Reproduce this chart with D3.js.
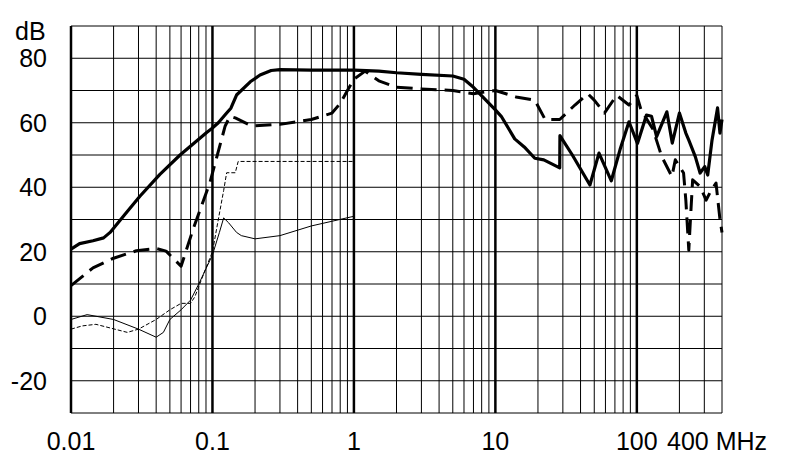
<!DOCTYPE html><html><head><script src="https://cdn.jsdelivr.net/npm/d3@7"></script>
<style>body{margin:0;background:#fff}text{font-family:Arial,"Liberation Sans",sans-serif}</style></head><body>
<svg id="c" width="790" height="472"></svg>
<script>
const yTicks=[-20,0,20,40,60,80];
const xTickLabels=[["0.01",0.01],["0.1",0.1],["1",1],["10",10],["100",100],["400 MHz",400]];
const thickSolid=[[0.01,20.8],[0.0115,22.5],[0.0143,23.4],[0.017,24.3],[0.0189,26],[0.0245,32],[0.0307,37.2],[0.0425,44],[0.059,50],[0.091,57],[0.099,58.2],[0.11,60],[0.126,63],[0.135,64.5],[0.148,68.6],[0.185,72.7],[0.217,74.8],[0.26,76.2],[0.3,76.5],[0.5,76.3],[1,76.3],[1.5,76],[2,75.5],[3,75],[5,74.5],[6,73.5],[7,71],[10,64],[11,62],[13.7,55],[16,52.5],[19,49],[22,48.5],[28.5,46],[28.6,56],[35,50],[46.6,40.7],[54,50.6],[66,42],[76,51.6],[88,60.3],[101,53.6],[117,62.4],[127,62],[138,55.7],[163,63.4],[178,53.7],[200,63],[222,56.8],[233,54.6],[259,49.5],[280,44.4],[302,46.4],[317,43.8],[340,54.6],[372,64.6],[387,56.8],[400,61]];
const thickDashed=[[0.01,9.5],[0.0143,15],[0.02,18],[0.029,20.3],[0.04,21],[0.047,20.2],[0.06,15.5],[0.073,27],[0.096,41.5],[0.123,59],[0.133,62],[0.145,61.5],[0.19,59],[0.3,59.5],[0.5,61],[0.7,63],[0.8,66],[0.9,70],[1,73.5],[1.2,76],[1.5,73],[2,71],[3,70.5],[5,70],[7,69],[10,70],[14,68],[19,67],[22.5,61],[28.5,61],[36.5,65.5],[45,69],[50,67],[59,63],[72,68.5],[88,65.5],[100,68.5],[107,64],[130,58],[150,49.5],[177,43.3],[187,48.5],[214,44.4],[222,36],[233,20.5],[240,31],[248,42.3],[280,40.2],[309,36],[335,39],[363,41.3],[387,30],[400,26]];
const thinSolid=[[0.01,-1],[0.013,0.5],[0.02,-1],[0.03,-4],[0.04,-6.5],[0.045,-5],[0.05,-1],[0.06,2],[0.07,5],[0.08,10],[0.1,19],[0.112,26],[0.12,30.5],[0.13,29],[0.148,26],[0.16,25],[0.2,24],[0.3,25],[0.5,28],[1,31]];
const thinDashed=[[0.01,-4],[0.012,-3],[0.015,-2.5],[0.025,-5],[0.03,-4],[0.04,-1],[0.05,2],[0.06,4],[0.07,4],[0.075,6],[0.09,15],[0.1,20],[0.11,30],[0.12,39],[0.126,44.5],[0.145,44.5],[0.152,48],[0.5,48],[1,48]];

const svg=d3.select("#c");
const x=d3.scaleLog().domain([0.01,400]).range([71,722]);
const y=d3.scaleLinear().domain([-30,90]).range([413,26]);
const g=svg.append("g");
const vlines=[];
[0.01,0.1,1,10,100].forEach(d=>{for(let k=1;k<=9;k++){const v=d*k;if(v<=400)vlines.push(v);}});
vlines.push(200,300,400);
[...new Set(vlines)].forEach(v=>{
  const major=Math.abs(Math.log10(v)-Math.round(Math.log10(v)))<1e-9;
  g.append("line").attr("x1",x(v)).attr("x2",x(v)).attr("y1",y(90)).attr("y2",y(-30))
   .attr("stroke","#000").attr("stroke-width",major?2.5:1);
});
d3.range(-30,91,10).forEach(v=>g.append("line").attr("x1",x(0.01)).attr("x2",x(400)).attr("y1",y(v)).attr("y2",y(v)).attr("stroke","#000").attr("stroke-width",1));
const line=d3.line().x(d=>x(d[0])).y(d=>y(d[1]));
const series=[[thinSolid,1,null],[thinDashed,1,"4,2"],[thickDashed,3,"16,8"],[thickSolid,3.2,null]];
series.forEach(([data,w,dash])=>svg.append("path").datum(data).attr("d",line).attr("fill","none").attr("stroke","#000").attr("stroke-width",w).attr("stroke-dasharray",dash).attr("stroke-linejoin","round"));
yTicks.forEach(v=>svg.append("text").attr("x",47).attr("y",y(v)+9).attr("text-anchor","end").attr("font-size",25).text(v));
svg.append("text").attr("x",15).attr("y",40).attr("font-size",25).text("dB");
xTickLabels.forEach(([t,v])=>svg.append("text").attr("x",v===400?667:x(v)).attr("y",450).attr("text-anchor",v===400?"start":"middle").attr("font-size",25).text(t));
</script></body></html>
